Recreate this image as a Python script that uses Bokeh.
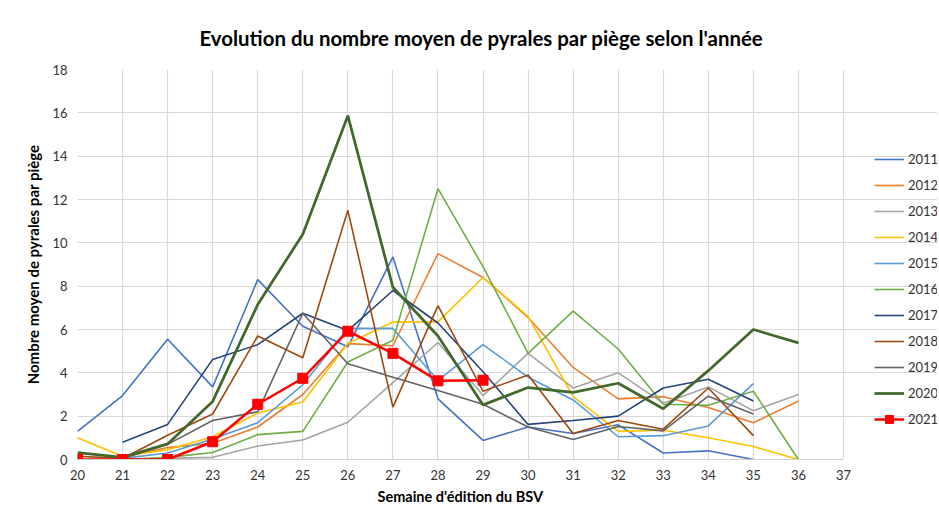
import numpy as np
from bokeh.plotting import figure
from bokeh.models import Legend, LegendItem, FixedTicker, Title
from bokeh.embed import file_html
from bokeh.resources import INLINE

nan = np.nan
weeks = list(range(20, 37))
week_ticks = list(range(20, 38))
value_ticks = list(range(0, 19, 2))

y2011 = [1.3, 2.95, 5.55, 3.35, 8.3, 6.15, 5.2, 9.35, 2.8, 0.88, 1.5, 1.2, 1.6, 0.3, 0.4, 0.0, nan]
y2012 = [nan, 0.1, 0.55, 0.75, 1.5, 3.0, 5.35, 5.25, 9.5, 8.4, 6.55, 4.25, 2.8, 2.9, 2.4, 1.7, 2.7]
y2013 = [nan, 0.0, 0.05, 0.1, 0.62, 0.9, 1.72, 3.55, 5.4, 2.95, 4.9, 3.3, 4.0, 2.6, 3.35, 2.25, 3.0]
y2014 = [1.0, 0.15, 0.45, 1.05, 2.15, 2.65, 5.35, 6.35, 6.35, 8.4, 6.6, 2.9, 1.3, 1.35, 1.0, 0.6, 0.0]
y2015 = [nan, 0.05, 0.3, 0.95, 1.7, 3.45, 6.05, 6.05, 3.65, 5.3, 3.8, 2.75, 1.05, 1.1, 1.55, 3.5, nan]
y2016 = [nan, 0.0, 0.1, 0.32, 1.15, 1.3, 4.5, 5.5, 12.5, 8.9, 4.9, 6.85, 5.1, 2.55, 2.5, 3.15, 0.0]
y2017 = [nan, 0.8, 1.62, 4.62, 5.3, 6.75, 5.95, 7.8, 6.3, 4.05, 1.62, 1.8, 2.0, 3.3, 3.7, 2.7, nan]
y2018 = [0.15, 0.05, 1.12, 2.1, 5.7, 4.7, 11.5, 2.42, 7.1, 3.15, 3.9, 1.2, 1.8, 1.4, 3.3, 1.1, nan]
y2019 = [nan, 0.05, 0.7, 1.8, 2.2, 6.75, 4.42, 3.8, 3.18, 2.55, 1.5, 0.92, 1.52, 1.32, 2.92, 2.1, nan]
y2020 = [0.32, 0.1, 0.72, 2.68, 7.15, 10.4, 15.87, 7.95, 5.7, 2.52, 3.32, 3.1, 3.52, 2.34, 4.1, 6.0, 5.38]
y2021 = [0.0, 0.0, 0.0, 0.82, 2.55, 3.75, 5.92, 4.9, 3.63, 3.66, nan, nan, nan, nan, nan, nan, nan]

years = ["2011", "2012", "2013", "2014", "2015", "2016", "2017", "2018", "2019", "2020", "2021"]
values = [y2011, y2012, y2013, y2014, y2015, y2016, y2017, y2018, y2019, y2020, y2021]
colors = ["#4472C4", "#ED7D31", "#A5A5A5", "#FFC000", "#5B9BD5", "#70AD47",
          "#264478", "#9E480E", "#636363", "#43682B", "#FF0000"]
widths = [1.6, 1.6, 1.6, 1.6, 1.6, 1.6, 1.6, 1.6, 1.6, 2.75, 2.5]

FONT = "Lato"

# layout (pixels)
W, H = 937, 514
LEFT, BOTTOM, TOP = 77, 55, 69
PLOT_RIGHT = 843       # x of the last vertical gridline
frame_w = W - LEFT
frame_h = H - BOTTOM - TOP
x0, x1 = week_ticks[0], week_ticks[-1]
y0, y1 = value_ticks[0], value_ticks[-1]
px_x = (PLOT_RIGHT - LEFT) / (x1 - x0)
x_end = x0 + frame_w / px_x

p = figure(width=W, height=H, x_range=(x0, x_end), y_range=(y0, y1),
           output_backend="svg", toolbar_location=None,
           title="Evolution du nombre moyen de pyrales par piège selon l'année",
           min_border_left=LEFT, min_border_right=0, min_border_top=TOP, min_border_bottom=BOTTOM)
p.outline_line_color = None

p.title.text_font = FONT
p.title.text_font_size = "20.4px"
p.title.text_font_style = "bold"
p.title.text_color = "#000000"
p.title.align = "left"
p.title.offset = 122
p.title.standoff = 40

for ax in (p.xaxis[0], p.yaxis[0]):
    ax.major_tick_line_color = None
    ax.minor_tick_line_color = None
    ax.major_tick_out = 0
    ax.major_label_standoff = 10
    ax.major_label_text_font = FONT
    ax.major_label_text_font_size = "13px"
    ax.major_label_text_color = "#333333"
    ax.axis_label_text_font = FONT
    ax.axis_label_text_font_style = "bold"
    ax.axis_label_text_color = "#000000"

p.yaxis.axis_label_text_font_size = "15px"
p.xaxis.bounds = (x0, x1)
p.xaxis.ticker = FixedTicker(ticks=week_ticks)
p.yaxis.ticker = FixedTicker(ticks=value_ticks)
p.xgrid.ticker = FixedTicker(ticks=week_ticks)
p.ygrid.ticker = FixedTicker(ticks=value_ticks)
p.ygrid.bounds = (x0, x1)
p.xaxis.axis_line_color = "#D0D0D0"
p.yaxis.axis_line_color = None
p.yaxis.axis_label = "Nombre moyen de pyrales par piège"
p.yaxis.axis_label_standoff = 7
p.grid.grid_line_color = "#D9D9D9"
p.grid.grid_line_width = 1.2

xlabel = Title(text="Semaine d'édition du BSV", align="left", offset=300, standoff=6,
               text_font=FONT, text_font_size="14.5px", text_font_style="bold",
               text_color="#000000")
p.add_layout(xlabel, "below")

items = []
for name, ys, col, w in zip(years, values, colors, widths):
    arr = np.array(ys, dtype=float)
    r = p.line(weeks, arr, line_color=col, line_width=w)
    rs = [r]
    if name == "2021":
        m = p.scatter(weeks, arr, marker="square", size=10, fill_color=col, line_color=col)
        rs.append(m)
    items.append(LegendItem(label=name, renderers=rs))

legend = Legend(items=items, location=(874 - LEFT, (TOP + frame_h) - 429), padding=0, margin=0, spacing=6,
                glyph_width=30, glyph_height=20, label_height=20, label_standoff=4,
                label_text_font=FONT, label_text_font_size="13px", label_text_color="#333333",
                border_line_color=None, background_fill_alpha=0)
p.add_layout(legend)

open("out.html", "w").write(file_html(p, INLINE))
